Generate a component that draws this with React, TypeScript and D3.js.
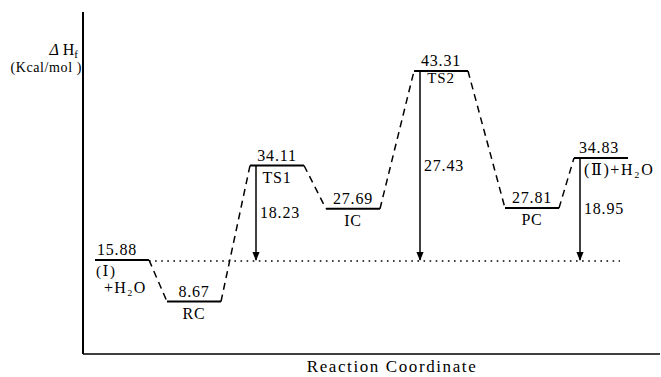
import * as d3 from "d3";

// stages along the reaction path and their heats of formation (kcal/mol)
const stages = ["I", "RC", "TS1", "IC", "TS2", "PC", "II"];
const enthalpy = [15.88, 8.67, 34.11, 27.69, 43.31, 27.81, 34.83];
const stageNames = ["(Ⅰ)", "RC", "TS1", "IC", "TS2", "PC", "(Ⅱ)+H₂O"];

// barrier heights measured from the reactant level
const dropStages = ["TS1", "TS2", "II"];
const dropValues = [18.23, 27.43, 18.95];

const W = 661;
const H = 377;
const serif = "Liberation Serif, DejaVu Serif, serif";

export default function App() {
  // the drawing is schematic, so the energy axis is piecewise linear
  const y = d3
    .scaleLinear()
    .domain([8.67, 15.88, 27.75, 34.11, 34.83, 43.31])
    .range([301.5, 260, 208.5, 165.5, 158, 71]);

  const x = d3
    .scaleLinear()
    .domain(d3.range(stages.length))
    .range([122, 194, 277, 353, 441, 532, 601]);

  const hw = 27;
  const base = y(enthalpy[0]);
  const axisX = 83;
  const axisY = 354;

  const connectors = stages.slice(1).map((s, i) => ({
    x1: x(i) + hw,
    y1: y(enthalpy[i]),
    x2: x(i + 1) - hw,
    y2: y(enthalpy[i + 1]),
  }));

  const txt = { fontFamily: serif };

  return (
    <svg
      width={W}
      height={H}
      style={{ position: "absolute", left: 0, top: 0, background: "#fff", fontFamily: serif }}
    >
      <defs>
        <marker id="ah" viewBox="0 0 10 10" refX="9" refY="5" markerWidth="6" markerHeight="6" orient="auto">
          <path d="M0,1 L10,5 L0,9 z" fill="#000" />
        </marker>
      </defs>

      {/* axes */}
      <line x1={axisX} y1={12} x2={axisX} y2={axisY} stroke="#000" strokeWidth={2} />
      <line x1={axisX} y1={axisY} x2={660} y2={axisY} stroke="#000" strokeWidth={1.6} />
      <text x={78} y={55} fontSize={16} textAnchor="end" style={txt}>
        <tspan fontStyle="italic">Δ</tspan> H<tspan fontSize={11} dy={3}>f</tspan>
      </text>
      <text x={82} y={72} fontSize={14} textAnchor="end" letterSpacing={0.6} style={txt}>
        (Kcal/mol )
      </text>
      <text x={392} y={372} fontSize={17} textAnchor="middle" letterSpacing={1.6} style={txt}>
        Reaction Coordinate
      </text>

      {/* reference level of the reactants */}
      <line
        x1={x(0) + hw}
        y1={base + 1}
        x2={620}
        y2={base + 1}
        stroke="#000"
        strokeWidth={1.3}
        strokeDasharray="1.6,4.5"
      />

      {/* dashed connectors */}
      {connectors.map((c, i) => (
        <line
          key={"c" + i}
          x1={c.x1}
          y1={c.y1}
          x2={c.x2}
          y2={c.y2}
          stroke="#000"
          strokeWidth={1.5}
          strokeDasharray="7,5"
        />
      ))}

      {/* energy levels */}
      {stages.map((s, i) => {
        const cx = x(i);
        const ly = y(enthalpy[i]);
        const first = i === 0;
        const last = i === stages.length - 1;
        const nameDy = s === "TS2" ? 12 : 17;
        return (
          <g key={s}>
            <line x1={cx - hw} y1={ly} x2={cx + hw} y2={ly} stroke="#000" strokeWidth={2} />
            <text
              x={first ? cx - hw + 2 : last ? cx - hw + 5 : cx}
              y={ly - 5}
              fontSize={16}
              textAnchor={first || last ? "start" : "middle"}
              letterSpacing={0.8}
              style={txt}
            >
              {enthalpy[i].toFixed(2)}
            </text>
            {first ? (
              <>
                <text x={cx - hw + 1} y={ly + 16} fontSize={15} letterSpacing={1.5} style={txt}>
                  {stageNames[i]}
                </text>
                <text x={cx - hw + 9} y={ly + 33} fontSize={16} letterSpacing={1.2} style={txt}>
                  +H₂O
                </text>
              </>
            ) : (
              <text
                x={last ? cx - hw + 10 : cx}
                y={ly + nameDy}
                fontSize={s === "TS2" ? 15 : 16}
                textAnchor={last ? "start" : "middle"}
                letterSpacing={last ? 1.6 : 0.8}
                style={txt}
              >
                {stageNames[i]}
              </text>
            )}
          </g>
        );
      })}

      {/* barrier arrows */}
      {dropStages.map((s, k) => {
        const i = stages.indexOf(s);
        const ax = x(i) - hw + 6;
        const top = y(enthalpy[i]);
        return (
          <g key={"d" + s}>
            <line
              x1={ax}
              y1={top}
              x2={ax}
              y2={base}
              stroke="#000"
              strokeWidth={1.5}
              markerEnd="url(#ah)"
            />
            <text x={ax + 4} y={(top + base) / 2 + 5} fontSize={16} letterSpacing={0.8} style={txt}>
              {dropValues[k].toFixed(2)}
            </text>
          </g>
        );
      })}
    </svg>
  );
}
